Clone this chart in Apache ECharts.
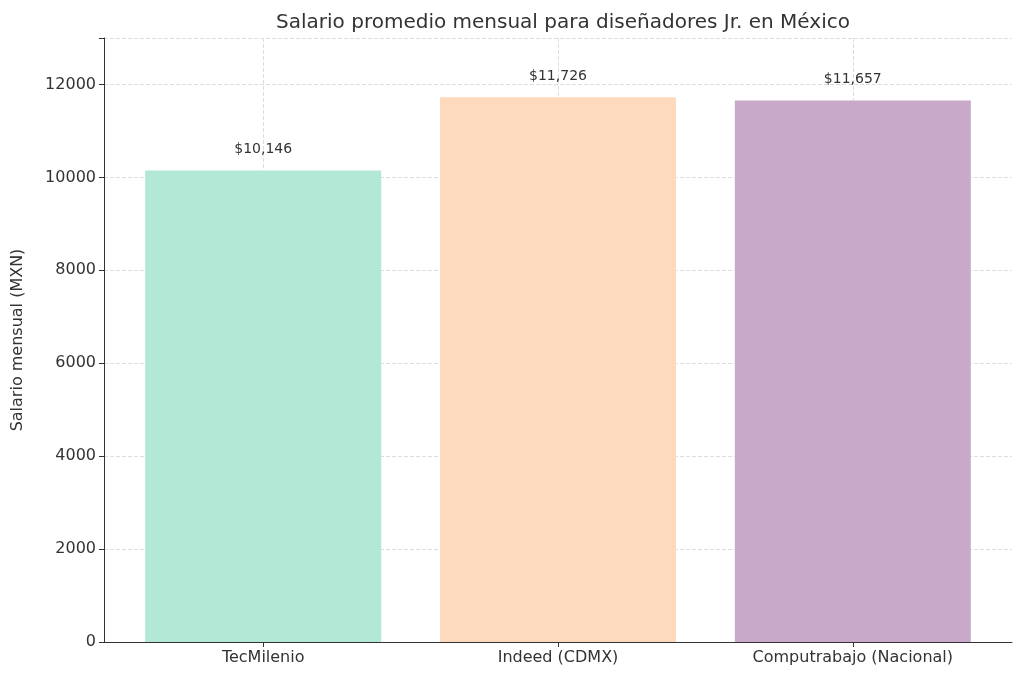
<!DOCTYPE html><html><head><meta charset="utf-8"><script src="https://cdn.jsdelivr.net/npm/echarts@6/dist/echarts.min.js"></script></head><body style="margin:0;background:#fff"><div id="c" style="width:1024px;height:679px"></div><script>
const categories=["TecMilenio","Indeed (CDMX)","Computrabajo (Nacional)"];
const values=[10146,11726,11657];
const colors=["#b3e8d6","#fdd9be","#c9a9ca"];
const chart=echarts.init(document.getElementById('c'));
const font="DejaVu Sans";
chart.setOption({
 textStyle:{fontFamily:font},
 title:{text:"Salario promedio mensual para diseñadores Jr. en México",left:558,textAlign:'center',top:8,textStyle:{fontFamily:font,fontSize:20,fontWeight:'normal',color:'#333'}},
 grid:{left:104,right:12,top:38,bottom:37},
 xAxis:{type:'value',min:-0.54,max:2.54,
  axisLine:{show:true,onZero:false,lineStyle:{color:'#333'}},
  axisTick:{show:true,customValues:[0,1,2],lineStyle:{color:'#333'}},
  axisLabel:{customValues:[0,1,2],formatter:v=>categories[Math.round(v)],fontSize:16,color:'#333',margin:8},
  splitLine:{show:true,lineStyle:{type:'dashed',color:'#ddd'}}},
 yAxis:{type:'value',min:0,max:13000,interval:2000,
  name:"Salario mensual (MXN)",nameLocation:'middle',nameGap:78,nameTextStyle:{fontSize:16,color:'#333'},
  axisLine:{show:true,onZero:false,lineStyle:{color:'#333'}},axisTick:{show:true,lineStyle:{color:'#333'}},
  axisLabel:{fontSize:16,color:'#333',formatter:v=>v%2000===0?String(v):''},
  splitLine:{show:true,lineStyle:{type:'dashed',color:'#ddd'}}},
 series:[{type:'bar',barWidth:236,data:values.map((v,i)=>({value:[i,v],itemStyle:{color:colors[i]}})),
  label:{show:true,position:'top',distance:14,fontSize:14,color:'#333',formatter:p=>'$'+p.value[1].toLocaleString('en-US')}}]
});
</script></body></html>
